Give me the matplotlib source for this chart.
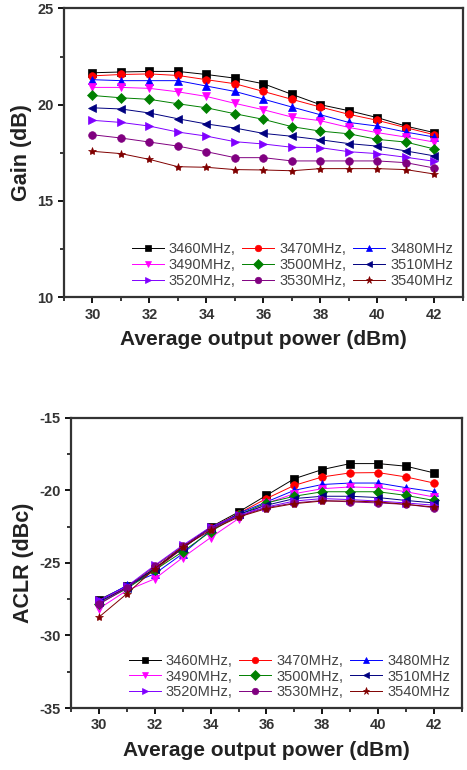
import matplotlib
matplotlib.use("Agg")
import matplotlib.pyplot as plt
from matplotlib.ticker import MultipleLocator

plt.rcParams['font.family'] = ['Liberation Sans', 'DejaVu Sans']
plt.rcParams['axes.unicode_minus'] = False

# output power (dBm)
power = [30, 31, 32, 33, 34, 35, 36, 37, 38, 39, 40, 41, 42]

freqs = ['3460MHz', '3470MHz', '3480MHz', '3490MHz', '3500MHz',
         '3510MHz', '3520MHz', '3530MHz', '3540MHz']
colors = ['#000000', '#ff0000', '#0000ff', '#ff00ff', '#008000',
          '#000080', '#8000ff', '#800080', '#800000']
markers = ['s', 'o', '^', 'v', 'D', '<', '>', 'o', '*']

# gain (dB), one list per frequency
gain_3460 = [21.66, 21.70, 21.73, 21.73, 21.57, 21.38, 21.09, 20.54, 20.00, 19.69, 19.33, 18.89, 18.55]
gain_3470 = [21.50, 21.57, 21.60, 21.52, 21.30, 21.09, 20.69, 20.28, 19.88, 19.50, 19.19, 18.81, 18.44]
gain_3480 = [21.30, 21.25, 21.25, 21.25, 20.97, 20.69, 20.29, 19.88, 19.48, 19.08, 18.89, 18.58, 18.32]
gain_3490 = [20.90, 20.90, 20.85, 20.67, 20.43, 20.07, 19.74, 19.36, 19.17, 18.82, 18.55, 18.32, 18.06]
gain_3500 = [20.48, 20.36, 20.28, 20.05, 19.84, 19.53, 19.24, 18.86, 18.63, 18.49, 18.20, 18.06, 17.70]
gain_3510 = [19.84, 19.78, 19.57, 19.27, 19.00, 18.79, 18.51, 18.36, 18.18, 17.98, 17.85, 17.60, 17.34]
gain_3520 = [19.19, 19.08, 18.89, 18.58, 18.37, 18.08, 17.96, 17.79, 17.77, 17.56, 17.46, 17.27, 17.06]
gain_3530 = [18.44, 18.27, 18.06, 17.85, 17.56, 17.25, 17.25, 17.08, 17.08, 17.08, 17.08, 16.99, 16.71]
gain_3540 = [17.58, 17.46, 17.16, 16.78, 16.75, 16.63, 16.61, 16.57, 16.68, 16.68, 16.68, 16.63, 16.40]

# ACLR (dBc), one list per frequency
aclr_3460 = [-27.54, -26.60, -25.40, -23.90, -22.53, -21.50, -20.35, -19.20, -18.57, -18.16, -18.16, -18.34, -18.80]
aclr_3470 = [-27.70, -26.67, -25.50, -24.00, -22.60, -21.60, -20.57, -19.66, -19.08, -18.80, -18.78, -19.08, -19.50]
aclr_3480 = [-27.63, -26.55, -25.75, -24.37, -22.76, -21.60, -20.80, -20.00, -19.60, -19.50, -19.50, -19.82, -20.10]
aclr_3490 = [-28.16, -26.90, -26.10, -24.64, -23.26, -21.95, -20.90, -20.23, -19.89, -19.77, -19.82, -20.10, -20.46]
aclr_3500 = [-27.80, -26.78, -25.50, -24.23, -22.85, -21.70, -20.87, -20.41, -20.10, -20.10, -20.10, -20.35, -20.70]
aclr_3510 = [-27.70, -26.71, -25.40, -24.00, -22.60, -21.66, -21.03, -20.57, -20.41, -20.41, -20.50, -20.70, -20.87]
aclr_3520 = [-27.58, -26.62, -25.17, -23.79, -22.53, -21.72, -21.15, -20.74, -20.57, -20.64, -20.74, -20.87, -21.03]
aclr_3530 = [-27.86, -26.71, -25.24, -23.86, -22.64, -21.79, -21.20, -20.87, -20.70, -20.80, -20.87, -20.97, -21.20]
aclr_3540 = [-28.74, -27.13, -25.40, -23.90, -22.76, -21.84, -21.26, -20.92, -20.74, -20.74, -20.80, -20.97, -21.15]

gain = [gain_3460, gain_3470, gain_3480, gain_3490, gain_3500,
        gain_3510, gain_3520, gain_3530, gain_3540]
aclr = [aclr_3460, aclr_3470, aclr_3480, aclr_3490, aclr_3500,
        aclr_3510, aclr_3520, aclr_3530, aclr_3540]


def draw(ax, data, ylim, ylabel, leg_anchor):
    handles = []
    for i, vals in enumerate(data):
        ms = 6 if markers[i] == '*' else 5.5
        h, = ax.plot(power, vals, color=colors[i], marker=markers[i],
                     markersize=ms, linewidth=0.7, markeredgewidth=0.5)
        handles.append(h)
    ax.set_xlim(29, 43)
    ax.set_ylim(*ylim)
    ax.xaxis.set_major_locator(MultipleLocator(2))
    ax.xaxis.set_minor_locator(MultipleLocator(1))
    ax.yaxis.set_major_locator(MultipleLocator(5))
    ax.yaxis.set_minor_locator(MultipleLocator(2.5))
    ax.tick_params(which='major', length=4, width=1.3, labelsize=10.5)
    ax.tick_params(which='minor', length=3, width=1.1)
    for lbl in ax.get_xticklabels() + ax.get_yticklabels():
        lbl.set_fontweight('bold')
        lbl.set_color('#333333')
    for s in ax.spines.values():
        s.set_linewidth(1.6)
        s.set_color('#333333')
    ax.set_xlabel('Average output power (dBm)', fontsize=15, fontweight='bold',
                  color='#222222', labelpad=6)
    ax.set_ylabel(ylabel, fontsize=15.5, fontweight='bold', color='#222222',
                  labelpad=4)

    # legend fills row by row: reorder for matplotlib's column-wise fill
    labels = [f + ',' if i % 3 != 2 else f for i, f in enumerate(freqs)]
    order = [0, 3, 6, 1, 4, 7, 2, 5, 8]
    leg = ax.legend([handles[k] for k in order], [labels[k] for k in order],
                    ncol=3, loc='lower right', bbox_to_anchor=leg_anchor,
                    frameon=False, fontsize=10.5, handlelength=2.2,
                    handletextpad=0.35, columnspacing=0.45, labelspacing=0.12,
                    borderaxespad=0, markerscale=0.85)
    for t in leg.get_texts():
        t.set_color('#444444')


fig = plt.figure(figsize=(4.67, 7.7), dpi=100)
ax1 = fig.add_axes([0.137, 0.614, 0.854, 0.375])
ax2 = fig.add_axes([0.152, 0.0805, 0.837, 0.377])

draw(ax1, gain, (10, 25), 'Gain (dB)', (0.99, 0.012))
draw(ax2, aclr, (-35, -15), 'ACLR (dBc)', (0.985, 0.01))

fig.savefig('out.png', dpi=100)
